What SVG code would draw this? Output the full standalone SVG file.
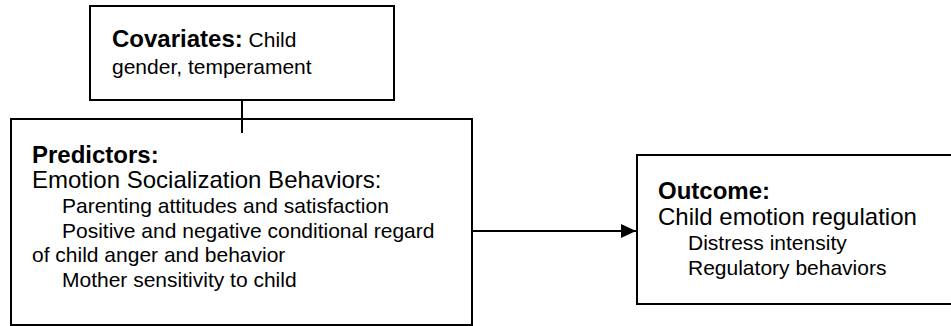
<svg xmlns="http://www.w3.org/2000/svg" width="951" height="326" viewBox="0 0 951 326">
<style>
.box{fill:#fff;stroke:#000;stroke-width:2}
text{font-family:"Liberation Sans",Arial,sans-serif;fill:#000}
.h{font-size:24px;font-weight:bold}
.m{font-size:24px}
.s{font-size:21px}
.ln{stroke:#000;stroke-width:2;fill:none}
</style>
<defs>
<marker id="ah" markerUnits="userSpaceOnUse" markerWidth="16" markerHeight="14" refX="15" refY="7" orient="auto">
<path d="M0,0 L15,7 L0,14 Z" fill="#000"/>
</marker>
</defs>
<rect width="951" height="326" fill="#fff"/>
<g id="covariates">
<rect class="box" x="90" y="6" width="304" height="94"/>
<text x="112" y="47"><tspan class="h">Covariates:</tspan><tspan class="s"> Child</tspan></text>
<text class="s" x="112" y="74">gender, temperament</text>
</g>
<g id="predictors">
<rect class="box" x="11" y="119" width="461" height="206"/>
<text class="h" x="32" y="163">Predictors:</text>
<text class="m" x="32" y="188">Emotion Socialization Behaviors:</text>
<text class="s" x="62" y="213">Parenting attitudes and satisfaction</text>
<text class="s" x="62" y="238">Positive and negative conditional regard</text>
<text class="s" x="32" y="262">of child anger and behavior</text>
<text class="s" x="62" y="287">Mother sensitivity to child</text>
</g>
<g id="outcome">
<rect class="box" x="637" y="155" width="330" height="149"/>
<text class="h" x="658" y="199">Outcome:</text>
<text class="m" x="658" y="225">Child emotion regulation</text>
<text class="s" x="688" y="250">Distress intensity</text>
<text class="s" x="688" y="275">Regulatory behaviors</text>
</g>
<g id="connectors">
<line class="ln" x1="242" y1="100" x2="242" y2="133"/>
<line class="ln" x1="473" y1="231" x2="636" y2="231" marker-end="url(#ah)"/>
</g>
</svg>
